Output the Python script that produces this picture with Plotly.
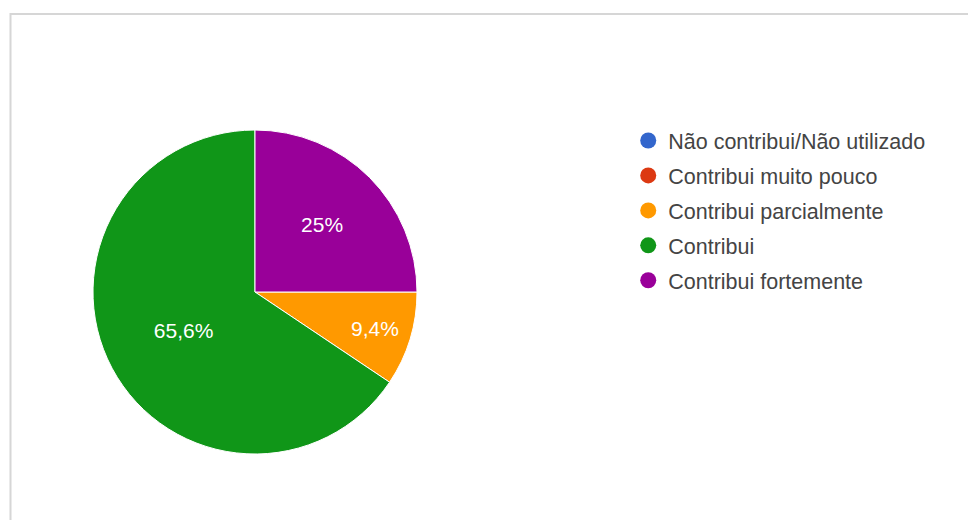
import plotly.graph_objects as go

labels = ["Não contribui/Não utilizado", "Contribui muito pouco",
          "Contribui parcialmente", "Contribui", "Contribui fortemente"]
values = [0, 0, 9.4, 65.6, 25]
colors = ["#3366cc", "#dc3912", "#ff9900", "#109618", "#990099"]

W, H = 968, 520
FONT = "Liberation Sans, Arial, sans-serif"

fig = go.Figure()

fig.add_trace(go.Pie(
    labels=labels, values=values, sort=False, direction="clockwise",
    rotation=90,
    marker=dict(colors=colors, line=dict(color="white", width=1)),
    textinfo="percent", textposition="inside", insidetextorientation="horizontal",
    textfont=dict(color="white", size=21, family=FONT),
    domain=dict(x=[93 / W, 417 / W], y=[1 - 454 / H, 1 - 130 / H]),
    showlegend=False, hoverinfo="label+percent",
))

for i, (lab, col) in enumerate(zip(labels, colors)):
    fig.add_trace(go.Scatter(
        x=[None], y=[None], mode="markers", name=lab,
        marker=dict(color=col, size=18, symbol="circle"),
        legendgroup=f"g{i}", showlegend=True,
    ))

fig.update_layout(
    width=W, height=H, margin=dict(l=0, r=0, t=0, b=0),
    paper_bgcolor="white", plot_bgcolor="white",
    separators=",.",
    font=dict(family=FONT, color="#222222", size=21),
    xaxis=dict(visible=False), yaxis=dict(visible=False),
    legend=dict(x=0.649, y=1 - 120 / H, xanchor="left", yanchor="top",
                tracegroupgap=4, font=dict(size=21.5, color="#444444"),
                itemclick=False, bgcolor="rgba(0,0,0,0)"),
    shapes=[dict(type="rect", xref="paper", yref="paper",
                 x0=10.5 / W, x1=1.05, y0=-0.05, y1=1 - 14 / H,
                 line=dict(color="#d6d6d6", width=2), layer="below")],
)

fig.write_html("out.html")
